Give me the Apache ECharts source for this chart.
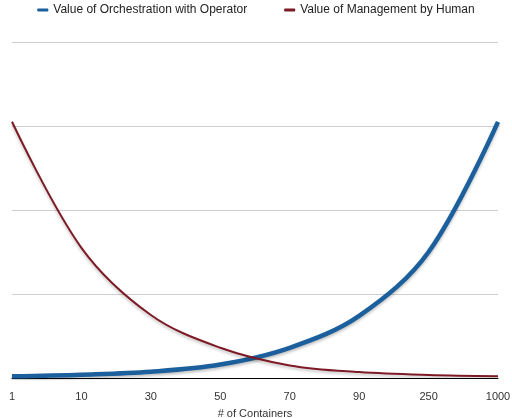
<!DOCTYPE html>
<html><head><meta charset="utf-8">
<script src="https://cdn.jsdelivr.net/npm/echarts@6/dist/echarts.min.js"></script>
<style>html,body{margin:0;padding:0;background:#fff}#c{width:512px;height:418px}</style>
</head><body><div id="c"></div>
<script>
var categories = ['1','10','30','50','70','90','250','1000'];
var orchestration = [0.02, 0.04, 0.075, 0.16, 0.36, 0.74, 1.5, 3.05];
var human = [3.05, 1.55, 0.75, 0.36, 0.15, 0.07, 0.035, 0.02];
var seriesNames = ['Value of Orchestration with Operator', 'Value of Management by Human'];

var chart = echarts.init(document.getElementById('c'));
chart.setOption({
  animation: false,
  legend: {
    top: -1, left: 'center', itemGap: 37,
    icon: 'roundRect', itemWidth: 11, itemHeight: 3,
    textStyle: {fontFamily: 'Liberation Sans', fontSize: 12, color: '#222'},
    data: seriesNames
  },
  grid: {left: 12, right: 14, top: 42, bottom: 40, outerBoundsMode: 'none', containLabel: false},
  xAxis: {
    type: 'category', data: categories, boundaryGap: false,
    axisLine: {lineStyle: {color: '#000', width: 1}},
    axisTick: {show: false},
    axisLabel: {fontFamily: 'Liberation Sans', fontSize: 11, color: '#333', margin: 13},
    name: '# of Containers', nameLocation: 'middle', nameGap: 30,
    nameTextStyle: {fontFamily: 'Liberation Sans', fontSize: 11, color: '#333'}
  },
  yAxis: {
    type: 'value', min: 0, max: 4, interval: 1,
    axisLabel: {show: false}, axisLine: {show: false}, axisTick: {show: false},
    splitLine: {lineStyle: {color: '#cfcfcf', width: 1}}
  },
  series: [
    {name: seriesNames[0], type: 'line', data: orchestration, smooth: 0.35, showSymbol: false,
     color: '#1b5f9d',
     lineStyle: {width: 4.5, color: '#1b5f9d', shadowColor: 'rgba(0,0,0,0.25)', shadowBlur: 3, shadowOffsetY: 2}},
    {name: seriesNames[1], type: 'line', data: human, smooth: 0.35, showSymbol: false,
     color: '#7d1a25',
     lineStyle: {width: 2, color: '#7d1a25', shadowColor: 'rgba(0,0,0,0.25)', shadowBlur: 3, shadowOffsetY: 2}}
  ]
});
</script></body></html>
